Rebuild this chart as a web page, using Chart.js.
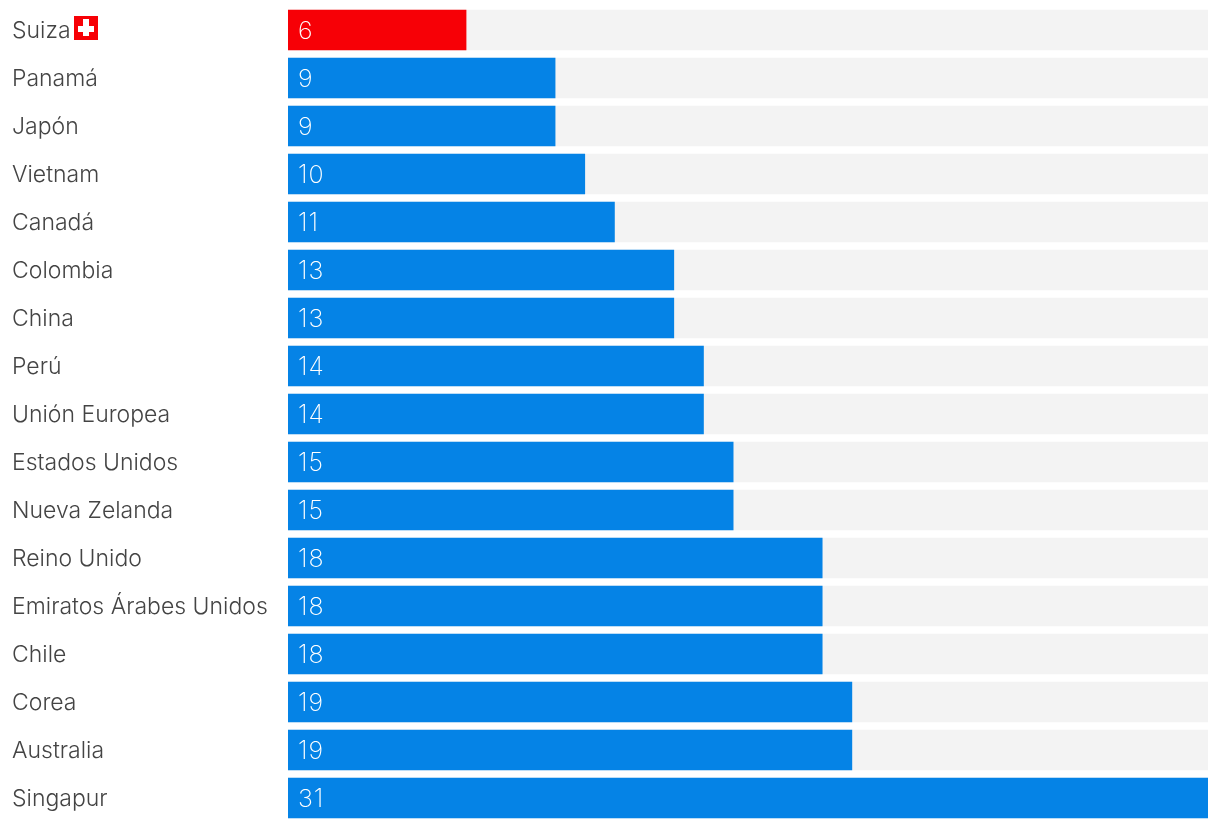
<!DOCTYPE html>
<html>
<head>
<meta charset="utf-8">
<style>
  html, body { margin: 0; padding: 0; background: #fff; }
  #wrap { width: 1220px; height: 828px; }
</style>
<script src="https://cdn.jsdelivr.net/npm/chart.js@4"></script>
</head>
<body>
<div id="wrap"><canvas id="chart"></canvas></div>
<script>
  var categories = ['Suiza', 'Panamá', 'Japón', 'Vietnam', 'Canadá', 'Colombia', 'China', 'Perú',
    'Unión Europea', 'Estados Unidos', 'Nueva Zelanda', 'Reino Unido', 'Emiratos Árabes Unidos',
    'Chile', 'Corea', 'Australia', 'Singapur'];
  var values = [6, 9, 9, 10, 11, 13, 13, 14, 14, 15, 15, 18, 18, 18, 19, 19, 31];
  var trackMax = 31;

  var RED = '#f70006';
  var BLUE = '#0583e6';
  var TRACK = '#f3f3f3';
  var FONT = "'Inter', sans-serif";

  Chart.defaults.animation = false;
  Chart.defaults.font.family = FONT;

  // nudges the axis labels 1px down (only the scales draw between these two hooks)
  var labelNudge = {
    id: 'labelNudge',
    beforeDraw: function (chart) {
      chart.ctx.save();
      chart.ctx.translate(0, 1);
    },
    beforeDatasetsDraw: function (chart) {
      chart.ctx.restore();
    }
  };

  // value inside each bar, plus the swiss flag after the first label
  var barLabels = {
    id: 'barLabels',
    afterDatasetsDraw: function (chart) {
      var ctx = chart.ctx;
      var meta = chart.getDatasetMeta(1);
      ctx.save();
      ctx.font = '200 25px ' + FONT;
      ctx.letterSpacing = '1px';
      ctx.fillStyle = '#fff';
      ctx.textAlign = 'left';
      ctx.textBaseline = 'middle';
      meta.data.forEach(function (bar, i) {
        ctx.fillText(values[i], bar.base + 10, bar.y + 1);
      });
      var y = chart.scales.y.getPixelForValue(0);
      ctx.fillStyle = RED;
      ctx.fillRect(74, y - 14, 24, 24);
      ctx.fillStyle = '#fff';
      ctx.fillRect(83, y - 11, 6, 17);
      ctx.fillRect(78, y - 4, 16, 6);
      ctx.restore();
    }
  };

  new Chart(document.getElementById('chart').getContext('2d'), {
    type: 'bar',
    data: {
      labels: categories,
      datasets: [
        {
          data: categories.map(function () { return trackMax; }),
          backgroundColor: TRACK,
          barThickness: 40,
          grouped: false,
          order: 2
        },
        {
          data: values,
          backgroundColor: values.map(function (v, i) { return i === 0 ? RED : BLUE; }),
          barThickness: 40,
          grouped: false,
          order: 1
        }
      ]
    },
    options: {
      indexAxis: 'y',
      responsive: true,
      maintainAspectRatio: false,
      layout: { padding: { left: 12, right: 12, top: 6, bottom: 6 } },
      plugins: { legend: { display: false }, tooltip: { enabled: false } },
      scales: {
        x: { display: false, min: 0, max: trackMax },
        y: {
          grid: { display: false },
          border: { display: false },
          afterFit: function (scale) {
            scale.width = 276;
            scale.paddingTop = 0;
            scale.paddingBottom = 0;
          },
          ticks: {
            crossAlign: 'far',
            autoSkip: false,
            color: '#444',
            font: { family: FONT, size: 23, weight: '300' }
          }
        }
      }
    },
    plugins: [labelNudge, barLabels]
  });
</script>
</body>
</html>
